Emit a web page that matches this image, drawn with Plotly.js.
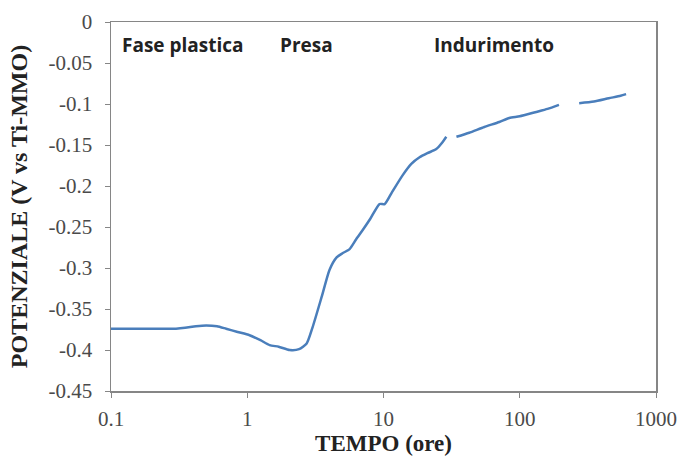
<!DOCTYPE html>
<html>
<head>
<meta charset="utf-8">
<script src="https://cdn.plot.ly/plotly-3.0.1.min.js"></script>
<style>html,body{margin:0;padding:0;background:#fff;}#chart{width:684px;height:456px;}</style>
</head>
<body>
<div id="chart"></div>
<script>
// Data (tempo in ore, potenziale in V vs Ti-MMO); null = gap in the record
const tempo = [0.1, 0.15, 0.2, 0.3, 0.35, 0.42, 0.5, 0.6, 0.7, 0.85, 1.04, 1.25, 1.46, 1.7, 2.05, 2.4, 2.73, 3.02, 3.52, 4.02, 4.53, 5.0, 5.64, 6.3, 7.02, 8.0, 9.35, 10.2, 11.5, 13.8, 16, 18.4, 21, 24.4, 27, 28.9, 31, 34.3, 42.6, 55, 70.8, 83.8, 100, 130, 160, 194, 230, 273, 350, 450, 550, 603];
const potenziale = [-0.374, -0.374, -0.374, -0.374, -0.373, -0.371, -0.370, -0.371, -0.374, -0.378, -0.382, -0.388, -0.394, -0.396, -0.400, -0.399, -0.392, -0.372, -0.335, -0.302, -0.287, -0.282, -0.277, -0.265, -0.254, -0.240, -0.222, -0.222, -0.208, -0.187, -0.173, -0.165, -0.160, -0.155, -0.147, -0.140, null, -0.140, -0.135, -0.128, -0.122, -0.117, -0.115, -0.110, -0.106, -0.101, null, -0.099, -0.097, -0.093, -0.090, -0.088];
const xTickVals = [0.1, 1, 10, 100, 1000];
const xTickText = ["0.1", "1", "10", "100", "1000"];
const yTickVals = [0, -0.05, -0.1, -0.15, -0.2, -0.25, -0.3, -0.35, -0.4, -0.45];
const yTickText = ["0", "-0.05", "-0.1", "-0.15", "-0.2", "-0.25", "-0.3", "-0.35", "-0.4", "-0.45"];
const phases = ["Fase plastica", "Presa", "Indurimento"];
const phaseX = [0.132, 0.358, 0.703];

const serif = "Liberation Serif, Times New Roman, serif";
const trace = {
  x: tempo, y: potenziale, type: "scatter", mode: "lines",
  line: {color: "#4a7ebb", width: 2.5, shape: "spline", smoothing: 0.6},
  connectgaps: false, hoverinfo: "skip"
};
const layout = {
  width: 684, height: 456,
  margin: {l: 111, r: 28, t: 22, b: 65},
  paper_bgcolor: "#fff", plot_bgcolor: "#fff",
  showlegend: false,
  xaxis: {
    type: "log", range: [-1, 3],
    tickvals: xTickVals, ticktext: xTickText,
    ticks: "outside", ticklen: 5, tickcolor: "#868686",
    showline: true, linecolor: "#868686", linewidth: 1.5, mirror: true,
    showgrid: false, zeroline: false, ticklabelstandoff: 3,
    tickfont: {family: serif, size: 21, color: "#4a4a4a"},
    title: {text: "<b>TEMPO (ore)</b>", font: {family: serif, size: 23, color: "#222"}, standoff: 3}
  },
  yaxis: {
    range: [-0.45, 0],
    tickvals: yTickVals, ticktext: yTickText,
    ticks: "outside", ticklen: 5, tickcolor: "#868686",
    showline: true, linecolor: "#868686", linewidth: 1.5, mirror: true,
    showgrid: false, zeroline: false, ticklabelstandoff: 8,
    tickfont: {family: serif, size: 21, color: "#4a4a4a"},
    title: {text: "<b>POTENZIALE (V vs Ti-MMO)</b>", font: {family: serif, size: 24, color: "#222"}, standoff: 14}
  },
  annotations: phases.map((p, i) => ({
    text: "<b>" + p + "</b>", xref: "paper", yref: "paper",
    x: phaseX[i], y: 0.937, xanchor: "center", yanchor: "middle",
    showarrow: false, font: {family: "Open Sans, sans-serif", size: 19, color: "#222"}
  }))
};
Plotly.newPlot("chart", [trace], layout, {staticPlot: true, displayModeBar: false});
</script>
</body>
</html>
